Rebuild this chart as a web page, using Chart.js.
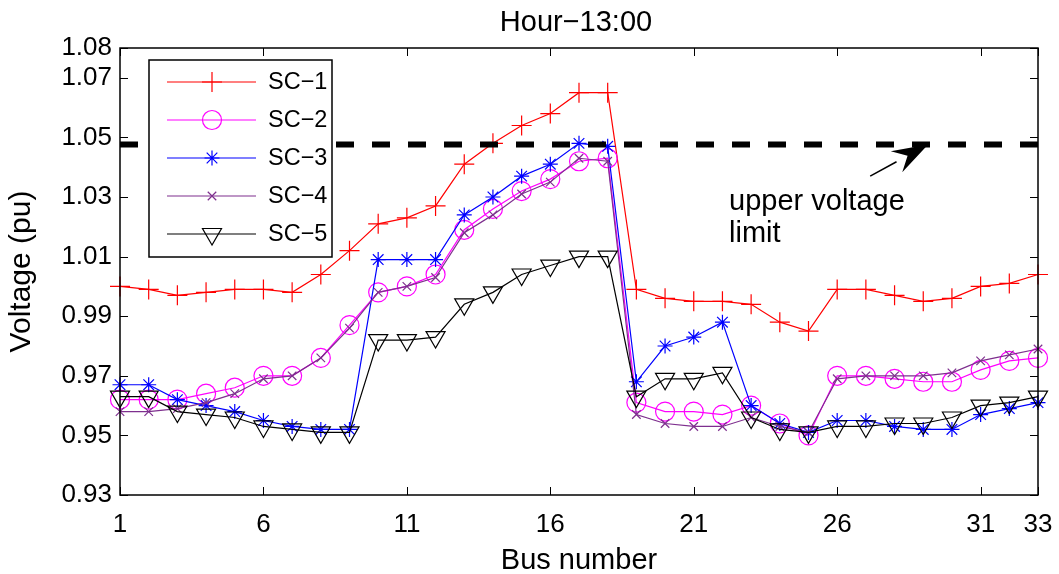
<!DOCTYPE html>
<html>
<head>
<meta charset="utf-8">
<script src="https://cdn.jsdelivr.net/npm/chart.js@4/dist/chart.umd.min.js"></script>
<style>
  html, body { margin: 0; padding: 0; background: #fff; }
  #wrap { width: 1059px; height: 574px; }
</style>
</head>
<body>
<div id="wrap"><canvas id="voltChart"></canvas></div>
<script>
const buses = [1,2,3,4,5,6,7,8,9,10,11,12,13,14,15,16,17,18,19,20,21,22,23,24,25,26,27,28,29,30,31,32,33];

const sc1 = [1.000,0.999,0.997,0.998,0.999,0.999,0.998,1.004,1.012,1.021,1.023,1.027,1.041,1.048,1.054,1.058,1.065,1.065,
             0.999,0.996,0.995,0.995,0.994,0.988,0.985,0.999,0.999,0.997,0.995,0.996,1.000,1.001,1.004];
const sc2 = [0.962,0.962,0.962,0.964,0.966,0.970,0.970,0.976,0.987,0.998,1.000,1.004,1.019,1.026,1.032,1.036,1.042,1.043,
             0.961,0.958,0.958,0.957,0.960,0.954,0.950,0.970,0.970,0.969,0.968,0.968,0.972,0.975,0.976];
const sc3 = [0.967,0.967,0.962,0.960,0.958,0.955,0.953,0.952,0.952,1.009,1.009,1.009,1.024,1.030,1.037,1.041,1.048,1.047,
             0.968,0.980,0.983,0.988,0.960,0.954,0.951,0.955,0.955,0.953,0.952,0.952,0.957,0.959,0.961];
const sc4 = [0.958,0.958,0.959,0.961,0.964,0.969,0.970,0.976,0.986,0.998,1.000,1.003,1.018,1.024,1.031,1.035,1.043,1.042,
             0.957,0.954,0.953,0.953,0.956,0.953,0.951,0.969,0.970,0.970,0.970,0.971,0.975,0.977,0.979];
const sc5 = [0.963,0.963,0.958,0.957,0.956,0.953,0.952,0.951,0.951,0.982,0.982,0.983,0.994,0.998,1.004,1.007,1.010,1.010,
             0.963,0.969,0.969,0.971,0.956,0.952,0.951,0.953,0.953,0.954,0.954,0.956,0.960,0.961,0.963];
const upperLimit = 1.0476;

const xTicks = [1,6,11,16,21,26,31,33];
const yTicks = [0.93,0.95,0.97,0.99,1.01,1.03,1.05,1.07,1.08];

const FONT = 'Liberation Sans, Arial, Helvetica, sans-serif';

function pts(vals){ return buses.map((b,i)=>({x:b, y:vals[i]})); }

const series = [
  {label:'SC\u22121', data:pts(sc1), color:'#ff0000', style:'cross',    radius:10,  order:5},
  {label:'SC\u22122', data:pts(sc2), color:'#ff00ff', style:'circle',   radius:9.5, order:4},
  {label:'SC\u22123', data:pts(sc3), color:'#0000ff', style:'star',     radius:7.5, order:3},
  {label:'SC\u22124', data:pts(sc4), color:'#7e2f8e', style:'crossRot', radius:6,   order:2},
  {label:'SC\u22125', data:pts(sc5), color:'#000000', style:'triangle', radius:11,  order:1, rotation:180}
];

const datasets = series.map(s => ({
  label: s.label,
  data: s.data,
  borderColor: s.color,
  backgroundColor: 'rgba(0,0,0,0)',
  borderWidth: 1.2,
  pointStyle: s.style,
  pointRadius: s.radius,
  pointHoverRadius: s.radius,
  pointRotation: s.rotation || 0,
  pointBorderColor: s.color,
  pointBackgroundColor: 'rgba(0,0,0,0)',
  pointBorderWidth: 1.2,
  tension: 0,
  clip: false,
  order: s.order
}));

datasets.push({
  label: 'limit',
  data: [{x:buses[0], y:upperLimit}, {x:buses[buses.length-1], y:upperLimit}],
  borderColor: '#000',
  borderWidth: 6,
  borderDash: [18,18],
  borderCapStyle: 'butt',
  pointRadius: 0,
  clip: false,
  order: 0
});

// frame, inward ticks, title, legend and annotation
const decor = {
  id: 'decor',
  afterDraw(chart){
    const ctx = chart.ctx;
    const a = chart.chartArea;
    const xs = chart.scales.x, ys = chart.scales.y;
    ctx.save();
    ctx.strokeStyle = '#000';
    ctx.lineWidth = 1.5;
    ctx.strokeRect(a.left, a.top, a.right - a.left, a.bottom - a.top);
    ctx.lineWidth = 1;
    const tl = 8;
    ctx.beginPath();
    xTicks.forEach(v => {
      const px = Math.round(xs.getPixelForValue(v)) + 0.5;
      ctx.moveTo(px, a.bottom); ctx.lineTo(px, a.bottom - tl);
      ctx.moveTo(px, a.top); ctx.lineTo(px, a.top + tl);
    });
    yTicks.forEach(v => {
      const py = Math.round(ys.getPixelForValue(v)) + 0.5;
      ctx.moveTo(a.left, py); ctx.lineTo(a.left + tl, py);
      ctx.moveTo(a.right, py); ctx.lineTo(a.right - tl, py);
    });
    ctx.stroke();

    // title
    ctx.fillStyle = '#000';
    ctx.font = '29px ' + FONT;
    ctx.textAlign = 'center';
    ctx.textBaseline = 'middle';
    ctx.fillText('Hour\u221213:00', (a.left + a.right) / 2 - 3, 23);

    // legend
    const lx = a.left + 29, ly = a.top + 12, lw = 183, lh = 197;
    ctx.fillStyle = '#fff';
    ctx.fillRect(lx, ly, lw, lh);
    ctx.lineWidth = 1.5;
    ctx.strokeStyle = '#000';
    ctx.strokeRect(lx, ly, lw, lh);
    series.forEach((s, i) => {
      const cy = ly + 22 + i * 38;
      ctx.strokeStyle = s.color;
      ctx.lineWidth = 1.2;
      ctx.beginPath();
      ctx.moveTo(lx + 18, cy); ctx.lineTo(lx + 107, cy);
      ctx.stroke();
      ctx.fillStyle = 'rgba(0,0,0,0)';
      if (Chart.helpers && Chart.helpers.drawPoint) {
        Chart.helpers.drawPoint(ctx, {pointStyle: s.style, radius: s.radius, rotation: s.rotation || 0, borderWidth: 1.2}, lx + 63, cy);
      }
      ctx.fillStyle = '#000';
      ctx.font = '23.5px ' + FONT;
      ctx.textAlign = 'left';
      ctx.textBaseline = 'middle';
      ctx.fillText(s.label, lx + 119, cy + 1);
    });

    // annotation arrow
    const tipX = xs.getPixelForValue(29.17), tipY = ys.getPixelForValue(upperLimit);
    const tailX = xs.getPixelForValue(27.15), tailY = ys.getPixelForValue(1.037);
    const ang = Math.atan2(tipY - tailY, tipX - tailX);
    const hl = 36, hw = 12;
    const bx = tipX - hl * Math.cos(ang), by = tipY - hl * Math.sin(ang);
    ctx.strokeStyle = '#000';
    ctx.lineWidth = 1.5;
    ctx.beginPath();
    ctx.moveTo(tailX, tailY); ctx.lineTo(bx, by);
    ctx.stroke();
    ctx.fillStyle = '#000';
    ctx.beginPath();
    ctx.moveTo(tipX, tipY);
    ctx.lineTo(bx + hw * Math.sin(ang), by - hw * Math.cos(ang));
    ctx.lineTo(bx + 0.35 * hl * Math.cos(ang), by + 0.35 * hl * Math.sin(ang));
    ctx.lineTo(bx - hw * Math.sin(ang), by + hw * Math.cos(ang));
    ctx.closePath();
    ctx.fill();

    ctx.font = '29px ' + FONT;
    ctx.textAlign = 'left';
    ctx.textBaseline = 'alphabetic';
    const tx = xs.getPixelForValue(22.23), ty = ys.getPixelForValue(1.0256);
    ctx.fillText('upper voltage', tx, ty);
    ctx.fillText('limit', tx, ty + 32);
    ctx.restore();
  }
};

new Chart(document.getElementById('voltChart'), {
  type: 'line',
  data: { datasets: datasets },
  options: {
    responsive: true,
    maintainAspectRatio: false,
    animation: false,
    events: [],
    layout: { padding: { top: 48, right: 21, bottom: 0, left: 0 } },
    plugins: { legend: { display: false }, title: { display: false }, tooltip: { enabled: false } },
    scales: {
      x: {
        type: 'linear',
        min: 1, max: 33,
        afterBuildTicks: scale => { scale.ticks = xTicks.map(v => ({value: v})); },
        afterFit: scale => { scale.height = 79; scale.paddingLeft = 0; scale.paddingRight = 0; },
        grid: { display: false, drawTicks: false },
        border: { display: false },
        ticks: { color: '#000', font: { family: FONT, size: 26 }, padding: 14, maxRotation: 0, autoSkip: false },
        title: { display: true, text: 'Bus number', color: '#000', font: { family: FONT, size: 29 }, padding: { top: 0, bottom: -4 } }
      },
      y: {
        min: 0.93, max: 1.08,
        afterBuildTicks: scale => { scale.ticks = yTicks.map(v => ({value: v})); },
        afterFit: scale => { scale.width = 120; scale.paddingTop = 0; scale.paddingBottom = 0; },
        grid: { display: false, drawTicks: false },
        border: { display: false },
        ticks: { color: '#000', font: { family: FONT, size: 26 }, padding: 8, callback: v => Number(v).toFixed(2) },
        title: { display: true, text: 'Voltage (pu)', color: '#000', font: { family: FONT, size: 30 }, padding: { top: 4, bottom: 0 } }
      }
    }
  },
  plugins: [decor]
});
</script>
</body>
</html>
